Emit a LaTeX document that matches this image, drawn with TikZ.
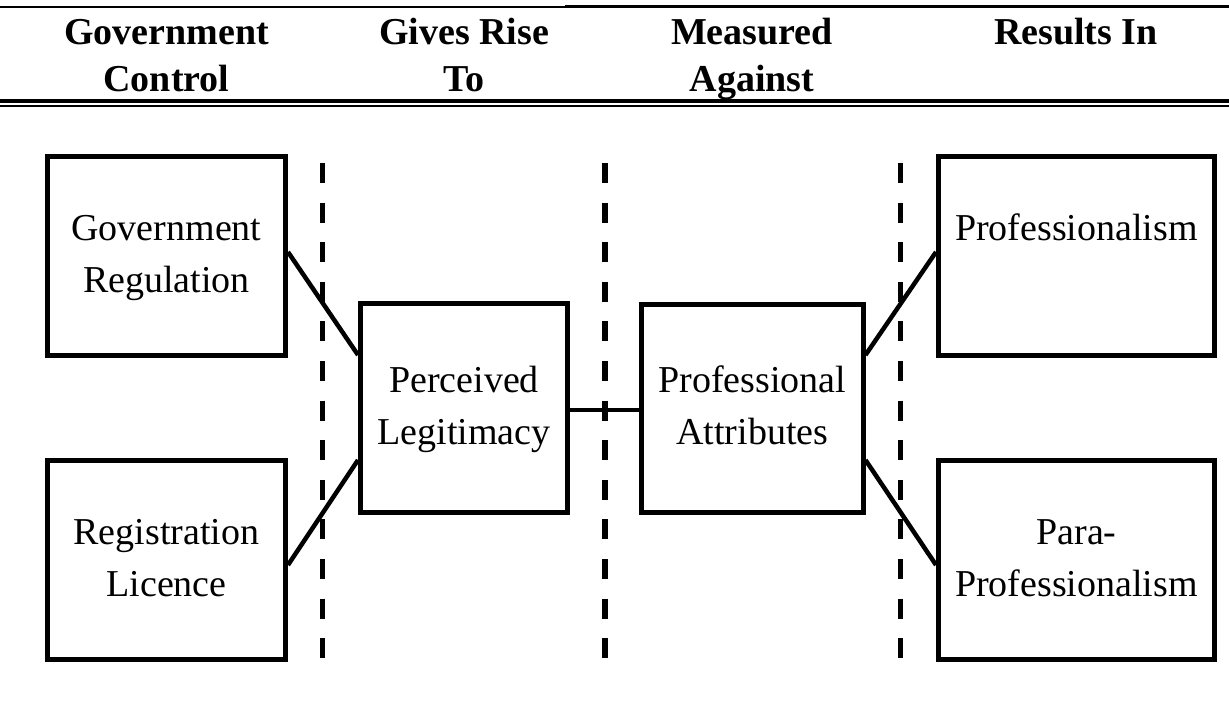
\documentclass[tikz,border=0pt]{standalone}
\usepackage{fontspec}
\setmainfont{Liberation Serif}
\begin{document}
\begin{tikzpicture}[x=1bp,y=-1bp,
  box/.style={draw, line width=5bp, inner sep=0pt, align=center,
    font=\fontsize{38bp}{52bp}\selectfont},
  hdr/.style={inner sep=0pt, align=center,
    font=\bfseries\fontsize{38bp}{47bp}\selectfont},
  link/.style={line width=4.5bp},
  divider/.style={line width=5.5bp, dash pattern=on 20bp off 19.6bp},
  rule/.style={line width=#1}]
\useasboundingbox (0,0) rectangle (1229,710);

% header rules
\draw[rule=1.5bp] (0,7) -- (565,7);
\draw[rule=2.5bp] (565,6.5) -- (1229,6.5);
\draw[rule=3.4bp] (0,101) -- (1229,101);
\draw[rule=1.4bp] (0,106) -- (1229,106);

% column headings
\node[hdr] (h1) at (166.5,59.1) {\strut Government\\\strut Control};
\node[hdr] (h2) at (464,59.1) {\strut Gives Rise\\\strut To};
\node[hdr] (h3) at (752,59.1) {\strut Measured\\\strut Against};
\node[hdr] (h4) at (1076,59.1) {\strut Results In\\\strut};

% boxes
\node[box, minimum width=238bp, minimum height=199bp] (gr) at (166.5,256)
  {\strut Government\\\strut Regulation};
\node[box, minimum width=238bp, minimum height=199bp] (rl) at (166.5,560)
  {\strut Registration\\\strut Licence};
\node[box, minimum width=207bp, minimum height=209bp] (pl) at (464,408)
  {\strut Perceived\\\strut Legitimacy};
\node[box, minimum width=221.5bp, minimum height=208bp] (pa) at (752.25,408.5)
  {\strut Professional\\\strut Attributes};
\node[box, minimum width=276bp, minimum height=199bp] (prof) at (1076.5,256)
  {\strut Professionalism\\\strut};
\node[box, minimum width=276bp, minimum height=199bp] (para) at (1076.5,560)
  {\strut Para-\\\strut Professionalism};

% dashed stage dividers
\coordinate (d1a) at (322.7,163);
\coordinate (d1b) at (322.7,658);
\coordinate (d2a) at (605,163);
\coordinate (d2b) at (605,658);
\coordinate (d3a) at (900.7,163);
\coordinate (d3b) at (900.7,658);

% connectors
\draw[link] ([yshift=4bp]gr.east) -- ([yshift=53bp]pl.west);
\draw[link] ([yshift=-5bp]rl.east) -- ([yshift=-52bp]pl.west);
\draw[link] ([yshift=-2bp]pl.east) -- ([yshift=-2bp]pl.east -| pa.west);
\draw[link] ([yshift=53.5bp]pa.east) -- ([yshift=4bp]prof.west);
\draw[link] ([yshift=-51.5bp]pa.east) -- ([yshift=-5bp]para.west);

\draw[divider] (d1a) -- (d1b);
\draw[divider] (d2a) -- (d2b);
\draw[divider] (d3a) -- (d3b);
\end{tikzpicture}
\end{document}
